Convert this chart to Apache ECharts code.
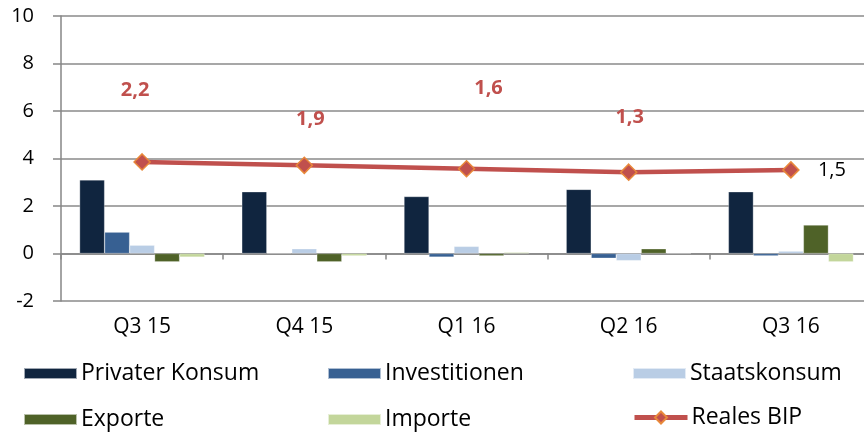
<!DOCTYPE html>
<html>
<head>
<meta charset="utf-8">
<script src="https://cdn.jsdelivr.net/npm/echarts@6/dist/echarts.min.js"></script>
<style>
html,body{margin:0;padding:0;background:#fff;}
#chart{width:864px;height:432px;}
</style>
</head>
<body>
<div id="chart"></div>
<script>
// Quartale
var quarters = ['Q3 15', 'Q4 15', 'Q1 16', 'Q2 16', 'Q3 16'];

// Wachstumsbeiträge (Prozentpunkte)
var privaterKonsum = [3.1, 2.6, 2.4, 2.7, 2.6];
var investitionen = [0.9, 0.02, -0.15, -0.2, -0.1];
var staatskonsum = [0.35, 0.2, 0.3, -0.3, 0.1];
var exporte = [-0.35, -0.35, -0.1, 0.2, 1.2];
var importe = [-0.15, -0.1, 0.05, 0.02, -0.35];

// Reales BIP (Sekundärachse)
var realesBip = [2.2, 1.9, 1.6, 1.3, 1.5];

var yTicks = [-2, 0, 2, 4, 6, 8, 10];

var fontName = 'Open Sans';
var chart = echarts.init(document.getElementById('chart'));

function fmt(v) {
	return String(v).replace('.', ',');
}

//Beschriftungen der Linie, per Hand verschoben wie im Original
var labelOffsets = [[-7, -72], [6, -46], [22, -80], [1, -55], [41, 0]];
var bipData = realesBip.map(function (v, i) {
	var last = i === realesBip.length - 1;
	return {
		value: v,
		label: {
			offset: labelOffsets[i],
			color: last ? '#000' : '#C0504D',
			fontWeight: last ? 'normal' : 'bold',
			fontSize: 20
		}
	};
});

function barSeries(name, data, color) {
	return {
		name: name,
		type: 'bar',
		data: data,
		barWidth: 25,
		barGap: '0%',
		itemStyle: { color: color, borderColor: 'rgba(255,255,255,0.6)', borderWidth: 0.5 }
	};
}

function legendAt(name, left, top, icon) {
	var l = {
		data: [name],
		left: left,
		top: top,
		itemWidth: 53,
		itemHeight: 11,
		itemGap: 0,
		textStyle: { fontFamily: fontName, fontSize: 23, color: '#000', padding: [0, 0, 0, -1] }
	};
	if (icon) l.icon = icon;
	else {
		l.itemHeight = 15;
		l.lineStyle = { width: 5 };
	}
	return l;
}

var option = {
	animation: false,
	backgroundColor: '#fff',
	grid: { left: 61, width: 811, top: 16, bottom: 131, outerBoundsMode: 'none' },
	legend: [
		legendAt('Privater Konsum', 18, 357, 'rect'),
		legendAt('Investitionen', 322, 357, 'rect'),
		legendAt('Staatskonsum', 627, 357, 'rect'),
		legendAt('Exporte', 18, 403, 'rect'),
		legendAt('Importe', 322, 403, 'rect'),
		legendAt('Reales BIP', 627, 401, null)
	],
	xAxis: {
		type: 'category',
		data: quarters,
		axisLine: { onZero: true, lineStyle: { color: '#868686', width: 1.5 } },
		axisTick: { show: true, length: 6, lineStyle: { color: '#868686', width: 1.5 } },
		axisLabel: { margin: 16, color: '#000', fontFamily: fontName, fontSize: 21 }
	},
	yAxis: [
		{
			type: 'value',
			min: -2,
			max: 10,
			interval: 2,
			axisLine: { show: true, lineStyle: { color: '#868686', width: 1.5 } },
			axisTick: { show: true, length: 8, lineStyle: { color: '#868686', width: 1.5 } },
			splitLine: { lineStyle: { color: '#8a8a8a', width: 1.5 } },
			axisLabel: {
				margin: 27,
				color: '#000',
				fontFamily: fontName,
				fontSize: 20,
				formatter: function (v) { return yTicks.indexOf(v) >= 0 ? String(v) : ''; }
			}
		},
		{
			type: 'value',
			min: -10,
			max: 15,
			show: false,
			splitLine: { show: false }
		}
	],
	series: [
		barSeries('Privater Konsum', privaterKonsum, '#10253F'),
		barSeries('Investitionen', investitionen, '#376092'),
		barSeries('Staatskonsum', staatskonsum, '#B9CDE5'),
		barSeries('Exporte', exporte, '#4F6228'),
		barSeries('Importe', importe, '#C3D69B'),
		{
			name: 'Reales BIP',
			type: 'line',
			yAxisIndex: 1,
			data: bipData,
			symbol: 'diamond',
			symbolSize: 16,
			z: 5,
			lineStyle: { color: '#C0504D', width: 4.5 },
			itemStyle: { color: '#C0504D', borderColor: '#E8883A', borderWidth: 1.5 },
			label: {
				show: true,
				position: 'inside',
				fontFamily: fontName,
				formatter: function (p) { return fmt(p.value); }
			}
		}
	]
};

chart.setOption(option);
</script>
</body>
</html>
